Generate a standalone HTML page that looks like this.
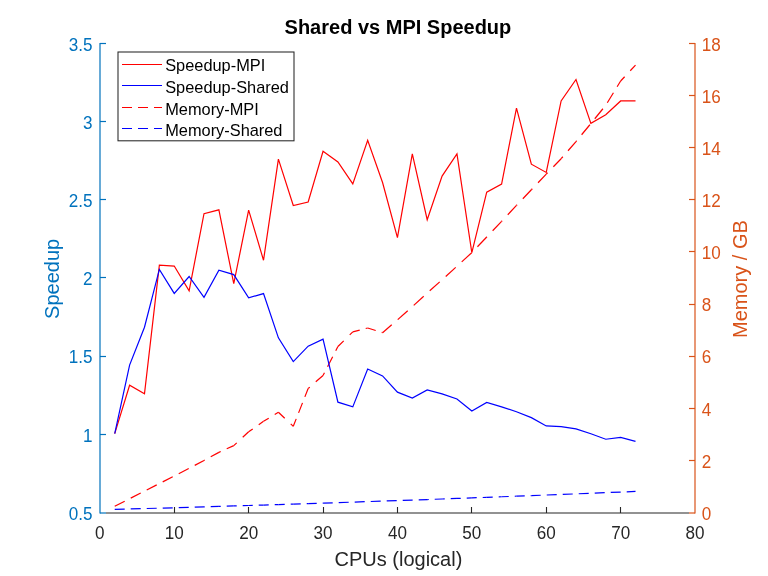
<!DOCTYPE html><html><head><meta charset="utf-8"><style>html,body{margin:0;padding:0;background:#fff;width:768px;height:576px;overflow:hidden}svg{display:block;will-change:transform}text{font-family:"Liberation Sans",sans-serif}</style></head><body>
<svg width="768" height="576" viewBox="0 0 768 576">
<rect width="768" height="576" fill="#fff"/>
<line x1="114.72" y1="506.25" x2="129.60" y2="498.69" stroke="#FF0000" stroke-width="1.2" stroke-dasharray="11.218 6.731" stroke-dashoffset="0.000"/><line x1="129.60" y1="498.69" x2="144.48" y2="491.12" stroke="#FF0000" stroke-width="1.2" stroke-dasharray="11.218 6.731" stroke-dashoffset="16.692"/><line x1="144.48" y1="491.12" x2="159.36" y2="483.56" stroke="#FF0000" stroke-width="1.2" stroke-dasharray="11.218 6.731" stroke-dashoffset="15.435"/><line x1="159.36" y1="483.56" x2="174.24" y2="476.00" stroke="#FF0000" stroke-width="1.2" stroke-dasharray="11.218 6.731" stroke-dashoffset="14.179"/><line x1="174.24" y1="476.00" x2="189.12" y2="468.30" stroke="#FF0000" stroke-width="1.2" stroke-dasharray="11.258 6.755" stroke-dashoffset="12.969"/><line x1="189.12" y1="468.30" x2="204.00" y2="460.48" stroke="#FF0000" stroke-width="1.2" stroke-dasharray="11.298 6.779" stroke-dashoffset="11.750"/><line x1="204.00" y1="460.48" x2="218.88" y2="452.40" stroke="#FF0000" stroke-width="1.2" stroke-dasharray="11.381 6.828" stroke-dashoffset="10.561"/><line x1="218.88" y1="452.40" x2="233.76" y2="445.61" stroke="#FF0000" stroke-width="1.2" stroke-dasharray="10.989 6.594" stroke-dashoffset="8.967"/><line x1="233.76" y1="445.61" x2="248.64" y2="431.79" stroke="#FF0000" stroke-width="1.2" stroke-dasharray="13.649 8.189" stroke-dashoffset="9.609"/><line x1="248.64" y1="431.79" x2="263.52" y2="421.36" stroke="#FF0000" stroke-width="1.2" stroke-dasharray="12.213 7.328" stroke-dashoffset="7.230"/><line x1="263.52" y1="421.36" x2="278.40" y2="412.23" stroke="#FF0000" stroke-width="1.2" stroke-dasharray="11.732 7.039" stroke-dashoffset="5.631"/><line x1="278.40" y1="412.23" x2="293.28" y2="426.32" stroke="#FF0000" stroke-width="1.2" stroke-dasharray="13.769 8.261" stroke-dashoffset="5.067"/><line x1="293.28" y1="426.32" x2="308.16" y2="388.50" stroke="#FF0000" stroke-width="1.2" stroke-dasharray="10.746 6.448" stroke-dashoffset="2.751"/><line x1="308.16" y1="388.50" x2="323.04" y2="375.46" stroke="#FF0000" stroke-width="1.2" stroke-dasharray="13.297 7.978" stroke-dashoffset="11.137"/><line x1="323.04" y1="375.46" x2="337.92" y2="346.51" stroke="#FF0000" stroke-width="1.2" stroke-dasharray="11.244 6.746" stroke-dashoffset="8.158"/><line x1="337.92" y1="346.51" x2="352.80" y2="331.91" stroke="#FF0000" stroke-width="1.2" stroke-dasharray="14.012 8.407" stroke-dashoffset="5.892"/><line x1="352.80" y1="331.91" x2="367.68" y2="327.99" stroke="#FF0000" stroke-width="1.2" stroke-dasharray="10.340 6.204" stroke-dashoffset="3.190"/><line x1="367.68" y1="327.99" x2="382.56" y2="332.69" stroke="#FF0000" stroke-width="1.2" stroke-dasharray="10.486 6.292" stroke-dashoffset="2.060"/><line x1="382.56" y1="332.69" x2="397.44" y2="319.91" stroke="#FF0000" stroke-width="1.2" stroke-dasharray="13.182 7.909" stroke-dashoffset="1.114"/><line x1="397.44" y1="319.91" x2="412.32" y2="306.61" stroke="#FF0000" stroke-width="1.2" stroke-dasharray="13.413 8.048" stroke-dashoffset="21.091"/><line x1="412.32" y1="306.61" x2="427.20" y2="293.05" stroke="#FF0000" stroke-width="1.2" stroke-dasharray="13.530 8.118" stroke-dashoffset="19.760"/><line x1="427.20" y1="293.05" x2="442.08" y2="279.75" stroke="#FF0000" stroke-width="1.2" stroke-dasharray="13.413 8.048" stroke-dashoffset="18.087"/><line x1="442.08" y1="279.75" x2="456.96" y2="266.18" stroke="#FF0000" stroke-width="1.2" stroke-dasharray="13.530 8.118" stroke-dashoffset="16.730"/><line x1="456.96" y1="266.18" x2="471.84" y2="252.62" stroke="#FF0000" stroke-width="1.2" stroke-dasharray="13.530 8.118" stroke-dashoffset="15.214"/><line x1="471.84" y1="252.62" x2="486.72" y2="236.97" stroke="#FF0000" stroke-width="1.2" stroke-dasharray="13.799 8.280" stroke-dashoffset="13.972"/><line x1="486.72" y1="236.97" x2="501.60" y2="221.33" stroke="#FF0000" stroke-width="1.2" stroke-dasharray="13.799 8.280" stroke-dashoffset="13.486"/><line x1="501.60" y1="221.33" x2="516.48" y2="205.42" stroke="#FF0000" stroke-width="1.2" stroke-dasharray="13.692 8.215" stroke-dashoffset="12.899"/><line x1="516.48" y1="205.42" x2="531.36" y2="189.77" stroke="#FF0000" stroke-width="1.2" stroke-dasharray="13.799 8.280" stroke-dashoffset="12.874"/><line x1="531.36" y1="189.77" x2="546.24" y2="174.12" stroke="#FF0000" stroke-width="1.2" stroke-dasharray="13.799 8.280" stroke-dashoffset="12.389"/><line x1="546.24" y1="174.12" x2="561.12" y2="158.73" stroke="#FF0000" stroke-width="1.2" stroke-dasharray="13.911 8.347" stroke-dashoffset="11.999"/><line x1="561.12" y1="158.73" x2="576.00" y2="141.52" stroke="#FF0000" stroke-width="1.2" stroke-dasharray="13.219 7.931" stroke-dashoffset="10.592"/><line x1="576.00" y1="141.52" x2="590.88" y2="123.53" stroke="#FF0000" stroke-width="1.2" stroke-dasharray="12.976 7.786" stroke-dashoffset="11.971"/><line x1="590.88" y1="123.53" x2="605.76" y2="105.27" stroke="#FF0000" stroke-width="1.2" stroke-dasharray="12.901 7.741" stroke-dashoffset="14.476"/><line x1="605.76" y1="105.27" x2="620.64" y2="81.02" stroke="#FF0000" stroke-width="1.2" stroke-dasharray="11.732 7.039" stroke-dashoffset="15.811"/><line x1="620.64" y1="81.02" x2="635.52" y2="65.11" stroke="#FF0000" stroke-width="1.2" stroke-dasharray="13.692 8.215" stroke-dashoffset="7.847"/>
<line x1="114.72" y1="509.41" x2="129.60" y2="509.00" stroke="#0000FF" stroke-width="1.2" stroke-dasharray="10.004 6.002" stroke-dashoffset="0.000"/><line x1="129.60" y1="509.00" x2="144.48" y2="508.58" stroke="#0000FF" stroke-width="1.2" stroke-dasharray="10.004 6.002" stroke-dashoffset="14.886"/><line x1="144.48" y1="508.58" x2="159.36" y2="508.16" stroke="#0000FF" stroke-width="1.2" stroke-dasharray="10.004 6.002" stroke-dashoffset="13.765"/><line x1="159.36" y1="508.16" x2="174.24" y2="507.74" stroke="#0000FF" stroke-width="1.2" stroke-dasharray="10.004 6.002" stroke-dashoffset="12.645"/><line x1="174.24" y1="507.74" x2="189.12" y2="507.30" stroke="#0000FF" stroke-width="1.2" stroke-dasharray="10.004 6.003" stroke-dashoffset="11.525"/><line x1="189.12" y1="507.30" x2="204.00" y2="506.87" stroke="#0000FF" stroke-width="1.2" stroke-dasharray="10.004 6.003" stroke-dashoffset="10.405"/><line x1="204.00" y1="506.87" x2="218.88" y2="506.42" stroke="#0000FF" stroke-width="1.2" stroke-dasharray="10.004 6.003" stroke-dashoffset="9.284"/><line x1="218.88" y1="506.42" x2="233.76" y2="505.97" stroke="#0000FF" stroke-width="1.2" stroke-dasharray="10.005 6.003" stroke-dashoffset="8.164"/><line x1="233.76" y1="505.97" x2="248.64" y2="505.51" stroke="#0000FF" stroke-width="1.2" stroke-dasharray="10.005 6.003" stroke-dashoffset="7.043"/><line x1="248.64" y1="505.51" x2="263.52" y2="505.05" stroke="#0000FF" stroke-width="1.2" stroke-dasharray="10.005 6.003" stroke-dashoffset="5.923"/><line x1="263.52" y1="505.05" x2="278.40" y2="504.58" stroke="#0000FF" stroke-width="1.2" stroke-dasharray="10.005 6.003" stroke-dashoffset="4.802"/><line x1="278.40" y1="504.58" x2="293.28" y2="504.10" stroke="#0000FF" stroke-width="1.2" stroke-dasharray="10.005 6.003" stroke-dashoffset="3.682"/><line x1="293.28" y1="504.10" x2="308.16" y2="503.62" stroke="#0000FF" stroke-width="1.2" stroke-dasharray="10.005 6.003" stroke-dashoffset="2.561"/><line x1="308.16" y1="503.62" x2="323.04" y2="503.13" stroke="#0000FF" stroke-width="1.2" stroke-dasharray="10.005 6.003" stroke-dashoffset="1.441"/><line x1="323.04" y1="503.13" x2="337.92" y2="502.63" stroke="#0000FF" stroke-width="1.2" stroke-dasharray="10.006 6.003" stroke-dashoffset="0.320"/><line x1="337.92" y1="502.63" x2="352.80" y2="502.13" stroke="#0000FF" stroke-width="1.2" stroke-dasharray="10.006 6.003" stroke-dashoffset="15.209"/><line x1="352.80" y1="502.13" x2="367.68" y2="501.62" stroke="#0000FF" stroke-width="1.2" stroke-dasharray="10.006 6.003" stroke-dashoffset="14.088"/><line x1="367.68" y1="501.62" x2="382.56" y2="501.11" stroke="#0000FF" stroke-width="1.2" stroke-dasharray="10.006 6.004" stroke-dashoffset="12.968"/><line x1="382.56" y1="501.11" x2="397.44" y2="500.59" stroke="#0000FF" stroke-width="1.2" stroke-dasharray="10.006 6.004" stroke-dashoffset="11.847"/><line x1="397.44" y1="500.59" x2="412.32" y2="500.06" stroke="#0000FF" stroke-width="1.2" stroke-dasharray="10.006 6.004" stroke-dashoffset="10.727"/><line x1="412.32" y1="500.06" x2="427.20" y2="499.53" stroke="#0000FF" stroke-width="1.2" stroke-dasharray="10.006 6.004" stroke-dashoffset="9.606"/><line x1="427.20" y1="499.53" x2="442.08" y2="498.99" stroke="#0000FF" stroke-width="1.2" stroke-dasharray="10.007 6.004" stroke-dashoffset="8.486"/><line x1="442.08" y1="498.99" x2="456.96" y2="498.44" stroke="#0000FF" stroke-width="1.2" stroke-dasharray="10.007 6.004" stroke-dashoffset="7.365"/><line x1="456.96" y1="498.44" x2="471.84" y2="497.89" stroke="#0000FF" stroke-width="1.2" stroke-dasharray="10.007 6.004" stroke-dashoffset="6.244"/><line x1="471.84" y1="497.89" x2="486.72" y2="497.33" stroke="#0000FF" stroke-width="1.2" stroke-dasharray="10.007 6.004" stroke-dashoffset="5.124"/><line x1="486.72" y1="497.33" x2="501.60" y2="496.77" stroke="#0000FF" stroke-width="1.2" stroke-dasharray="10.007 6.004" stroke-dashoffset="4.003"/><line x1="501.60" y1="496.77" x2="516.48" y2="496.20" stroke="#0000FF" stroke-width="1.2" stroke-dasharray="10.007 6.004" stroke-dashoffset="2.882"/><line x1="516.48" y1="496.20" x2="531.36" y2="495.62" stroke="#0000FF" stroke-width="1.2" stroke-dasharray="10.008 6.005" stroke-dashoffset="1.761"/><line x1="531.36" y1="495.62" x2="546.24" y2="495.04" stroke="#0000FF" stroke-width="1.2" stroke-dasharray="10.008 6.005" stroke-dashoffset="0.640"/><line x1="546.24" y1="495.04" x2="561.12" y2="494.45" stroke="#0000FF" stroke-width="1.2" stroke-dasharray="10.008 6.005" stroke-dashoffset="15.532"/><line x1="561.12" y1="494.45" x2="576.00" y2="493.86" stroke="#0000FF" stroke-width="1.2" stroke-dasharray="10.008 6.005" stroke-dashoffset="14.412"/><line x1="576.00" y1="493.86" x2="590.88" y2="493.25" stroke="#0000FF" stroke-width="1.2" stroke-dasharray="10.008 6.005" stroke-dashoffset="13.291"/><line x1="590.88" y1="493.25" x2="605.76" y2="492.65" stroke="#0000FF" stroke-width="1.2" stroke-dasharray="10.008 6.005" stroke-dashoffset="12.170"/><line x1="605.76" y1="492.65" x2="620.64" y2="492.03" stroke="#0000FF" stroke-width="1.2" stroke-dasharray="10.009 6.005" stroke-dashoffset="11.049"/><line x1="620.64" y1="492.03" x2="635.52" y2="491.41" stroke="#0000FF" stroke-width="1.2" stroke-dasharray="10.009 6.005" stroke-dashoffset="9.929"/>
<polyline fill="none" stroke="#FF0000" stroke-width="1.2" stroke-linejoin="miter" points="114.72,433.62 129.60,385.27 144.48,393.87 159.36,265.25 174.24,266.03 189.12,290.75 204.00,213.76 218.88,209.85 233.76,283.71 248.64,210.16 263.52,260.24 278.40,159.15 293.28,205.47 308.16,202.03 323.04,151.33 337.92,161.97 352.80,183.88 367.68,140.22 382.56,182.47 397.44,237.70 412.32,153.83 427.20,219.71 442.08,176.05 456.96,153.83 471.84,252.73 486.72,192.17 501.60,184.03 516.48,108.14 531.36,164.16 546.24,172.45 561.12,100.94 576.00,79.50 590.88,123.32 605.76,114.71 620.64,100.94 635.52,100.94"/>
<polyline fill="none" stroke="#0000FF" stroke-width="1.2" stroke-linejoin="miter" points="114.72,433.62 129.60,365.08 144.48,327.21 159.36,269.47 174.24,293.41 189.12,276.51 204.00,297.32 218.88,270.25 233.76,274.63 248.64,297.79 263.52,293.57 278.40,337.85 293.28,361.64 308.16,346.15 323.04,339.10 337.92,402.17 352.80,406.86 367.68,368.99 382.56,375.88 397.44,392.15 412.32,398.10 427.20,389.96 442.08,393.87 456.96,399.04 471.84,411.08 486.72,402.48 501.60,406.86 516.48,411.71 531.36,417.66 546.24,425.95 561.12,426.58 576.00,428.92 590.88,433.77 605.76,439.25 620.64,437.37 635.52,441.44"/>
<line x1="106" y1="513" x2="689" y2="513" stroke="#262626" stroke-width="1.05"/>
<text transform="translate(99.84,538.5) scale(0.94,1)" font-size="18.18" fill="#262626" text-anchor="middle">0</text>
<line x1="174.5" y1="513" x2="174.5" y2="507" stroke="#262626" stroke-width="1.1"/>
<text transform="translate(174.24,538.5) scale(0.94,1)" font-size="18.18" fill="#262626" text-anchor="middle">10</text>
<line x1="248.5" y1="513" x2="248.5" y2="507" stroke="#262626" stroke-width="1.1"/>
<text transform="translate(248.64,538.5) scale(0.94,1)" font-size="18.18" fill="#262626" text-anchor="middle">20</text>
<line x1="323.5" y1="513" x2="323.5" y2="507" stroke="#262626" stroke-width="1.1"/>
<text transform="translate(323.04,538.5) scale(0.94,1)" font-size="18.18" fill="#262626" text-anchor="middle">30</text>
<line x1="397.5" y1="513" x2="397.5" y2="507" stroke="#262626" stroke-width="1.1"/>
<text transform="translate(397.44,538.5) scale(0.94,1)" font-size="18.18" fill="#262626" text-anchor="middle">40</text>
<line x1="471.5" y1="513" x2="471.5" y2="507" stroke="#262626" stroke-width="1.1"/>
<text transform="translate(471.84,538.5) scale(0.94,1)" font-size="18.18" fill="#262626" text-anchor="middle">50</text>
<line x1="546.5" y1="513" x2="546.5" y2="507" stroke="#262626" stroke-width="1.1"/>
<text transform="translate(546.24,538.5) scale(0.94,1)" font-size="18.18" fill="#262626" text-anchor="middle">60</text>
<line x1="620.5" y1="513" x2="620.5" y2="507" stroke="#262626" stroke-width="1.1"/>
<text transform="translate(620.64,538.5) scale(0.94,1)" font-size="18.18" fill="#262626" text-anchor="middle">70</text>
<text transform="translate(695.04,538.5) scale(0.94,1)" font-size="18.18" fill="#262626" text-anchor="middle">80</text>
<line x1="100" y1="43" x2="100" y2="513.5" stroke="#0072BD" stroke-width="1.2"/>
<line x1="100" y1="513" x2="106" y2="513" stroke="#0072BD" stroke-width="1.2"/>
<text transform="translate(92.5,519.94) scale(0.94,1)" font-size="18.18" fill="#0072BD" text-anchor="end">0.5</text>
<line x1="100" y1="434.5" x2="106" y2="434.5" stroke="#0072BD" stroke-width="1.2"/>
<text transform="translate(92.5,441.70) scale(0.94,1)" font-size="18.18" fill="#0072BD" text-anchor="end">1</text>
<line x1="100" y1="356.5" x2="106" y2="356.5" stroke="#0072BD" stroke-width="1.2"/>
<text transform="translate(92.5,363.46) scale(0.94,1)" font-size="18.18" fill="#0072BD" text-anchor="end">1.5</text>
<line x1="100" y1="277.5" x2="106" y2="277.5" stroke="#0072BD" stroke-width="1.2"/>
<text transform="translate(92.5,285.22) scale(0.94,1)" font-size="18.18" fill="#0072BD" text-anchor="end">2</text>
<line x1="100" y1="199.5" x2="106" y2="199.5" stroke="#0072BD" stroke-width="1.2"/>
<text transform="translate(92.5,206.98) scale(0.94,1)" font-size="18.18" fill="#0072BD" text-anchor="end">2.5</text>
<line x1="100" y1="121.5" x2="106" y2="121.5" stroke="#0072BD" stroke-width="1.2"/>
<text transform="translate(92.5,128.74) scale(0.94,1)" font-size="18.18" fill="#0072BD" text-anchor="end">3</text>
<line x1="100" y1="43.5" x2="106" y2="43.5" stroke="#0072BD" stroke-width="1.2"/>
<text transform="translate(92.5,50.50) scale(0.94,1)" font-size="18.18" fill="#0072BD" text-anchor="end">3.5</text>
<line x1="695" y1="43" x2="695" y2="513.5" stroke="#D95319" stroke-width="1.2"/>
<line x1="695" y1="513" x2="689" y2="513" stroke="#D95319" stroke-width="1.2"/>
<text transform="translate(701.8,519.94) scale(0.94,1)" font-size="18.18" fill="#D95319">0</text>
<line x1="695" y1="460.5" x2="689" y2="460.5" stroke="#D95319" stroke-width="1.2"/>
<text transform="translate(701.8,467.78) scale(0.94,1)" font-size="18.18" fill="#D95319">2</text>
<line x1="695" y1="408.5" x2="689" y2="408.5" stroke="#D95319" stroke-width="1.2"/>
<text transform="translate(701.8,415.62) scale(0.94,1)" font-size="18.18" fill="#D95319">4</text>
<line x1="695" y1="356.5" x2="689" y2="356.5" stroke="#D95319" stroke-width="1.2"/>
<text transform="translate(701.8,363.46) scale(0.94,1)" font-size="18.18" fill="#D95319">6</text>
<line x1="695" y1="304.5" x2="689" y2="304.5" stroke="#D95319" stroke-width="1.2"/>
<text transform="translate(701.8,311.30) scale(0.94,1)" font-size="18.18" fill="#D95319">8</text>
<line x1="695" y1="251.5" x2="689" y2="251.5" stroke="#D95319" stroke-width="1.2"/>
<text transform="translate(701.8,259.14) scale(0.94,1)" font-size="18.18" fill="#D95319">10</text>
<line x1="695" y1="199.5" x2="689" y2="199.5" stroke="#D95319" stroke-width="1.2"/>
<text transform="translate(701.8,206.98) scale(0.94,1)" font-size="18.18" fill="#D95319">12</text>
<line x1="695" y1="147.5" x2="689" y2="147.5" stroke="#D95319" stroke-width="1.2"/>
<text transform="translate(701.8,154.82) scale(0.94,1)" font-size="18.18" fill="#D95319">14</text>
<line x1="695" y1="95.5" x2="689" y2="95.5" stroke="#D95319" stroke-width="1.2"/>
<text transform="translate(701.8,102.66) scale(0.94,1)" font-size="18.18" fill="#D95319">16</text>
<line x1="695" y1="43.5" x2="689" y2="43.5" stroke="#D95319" stroke-width="1.2"/>
<text transform="translate(701.8,50.50) scale(0.94,1)" font-size="18.18" fill="#D95319">18</text>
<text x="397.94" y="33.5" font-size="20" font-weight="bold" fill="#000" text-anchor="middle">Shared vs MPI Speedup</text>
<text x="398.44" y="565.5" font-size="20" fill="#262626" text-anchor="middle">CPUs (logical)</text>
<text transform="translate(59,278.92) rotate(-90)" font-size="20" fill="#0072BD" text-anchor="middle">Speedup</text>
<text transform="translate(747,279.12) rotate(-90)" font-size="20" fill="#D95319" text-anchor="middle">Memory / GB</text>
<rect x="118" y="52" width="176" height="88.8" fill="#fff" stroke="#262626" stroke-width="1.05"/>
<line x1="122" y1="64.5" x2="162" y2="64.5" stroke="#FF0000" stroke-width="1.2"/>
<text x="165.2" y="71.20" font-size="16.36" fill="#000">Speedup-MPI</text>
<line x1="122" y1="85.5" x2="162" y2="85.5" stroke="#0000FF" stroke-width="1.2"/>
<text x="165.2" y="92.85" font-size="16.36" fill="#000">Speedup-Shared</text>
<line x1="122" y1="107.5" x2="162" y2="107.5" stroke="#FF0000" stroke-width="1.2" stroke-dasharray="10 6"/>
<text x="165.2" y="114.50" font-size="16.36" fill="#000">Memory-MPI</text>
<line x1="122" y1="128.5" x2="162" y2="128.5" stroke="#0000FF" stroke-width="1.2" stroke-dasharray="10 6"/>
<text x="165.2" y="136.15" font-size="16.36" fill="#000">Memory-Shared</text>
</svg></body></html>
